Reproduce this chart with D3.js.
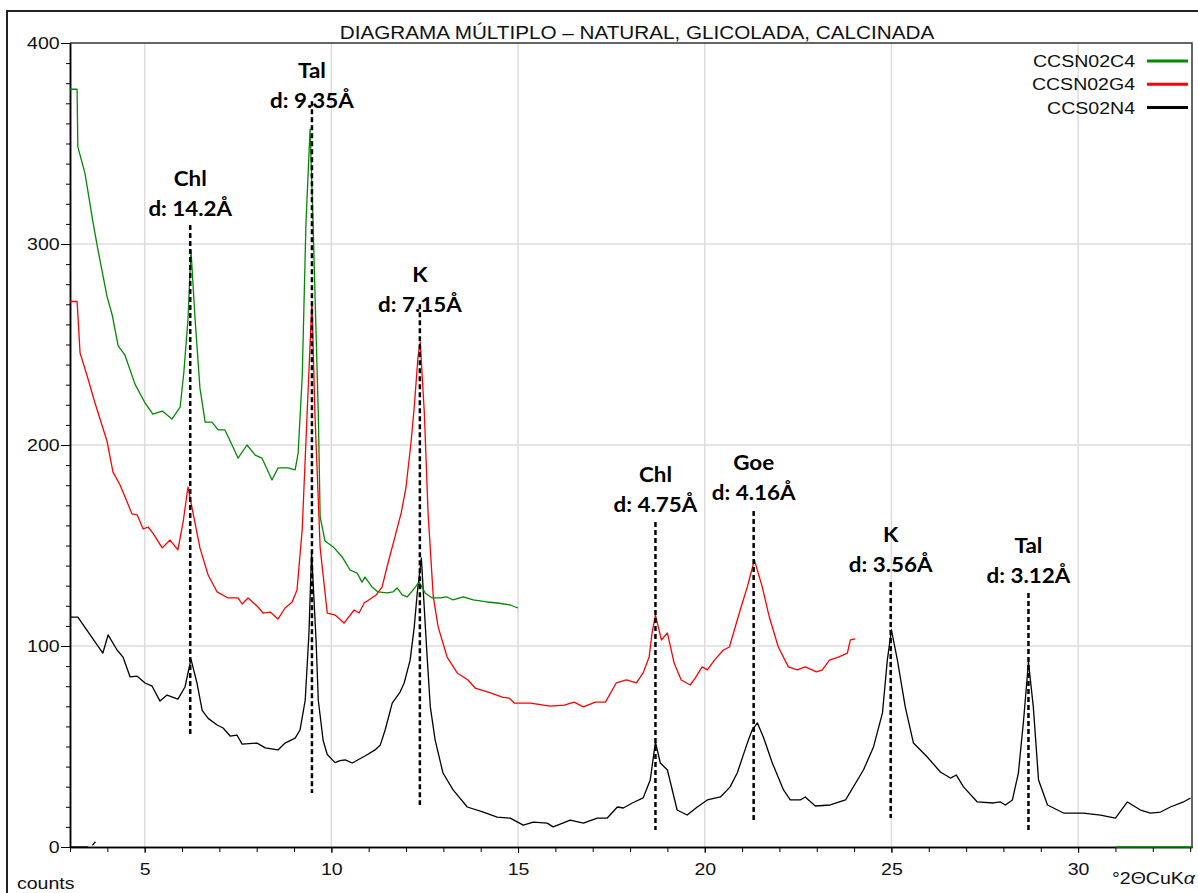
<!DOCTYPE html>
<html>
<head>
<meta charset="utf-8">
<style>
  body { margin: 0; background: #fff; }
  .lbl { font-family: "Liberation Sans", Arial, sans-serif; fill: #111; }
  .anno { font-family: Lato, "Open Sans", sans-serif; font-weight: bold; fill: #000; }
  .grid line { stroke: #dcdcdc; stroke-width: 1.5; }
  .axis path, .axis line { stroke: #000; }
</style>
</head>
<body>
<svg id="chart" width="1198" height="893"></svg>
<script src="https://cdn.jsdelivr.net/npm/d3@7"></script>
<script>
  //************* data (°2θ CuKα, counts) ************
  var natural = [ // CCS02N4
    [3.00,114.4],[3.21,114.4],[3.88,96.5],[4.02,105.5],[4.26,98],[4.42,94.5],[4.61,84.6],[4.80,85],
    [5.01,81.6],[5.20,80],[5.41,72.6],[5.60,75.6],[5.89,73.6],[6.08,79.6],[6.24,93.5],[6.40,81.6],
    [6.54,68],[6.70,64],[6.94,60.7],[7.10,59.2],[7.29,55.2],[7.47,55.7],[7.61,51.2],[8.01,51.7],
    [8.23,49.3],[8.57,48.3],[8.76,51.7],[9.03,54.2],[9.16,58.2],[9.30,73.1],[9.40,106.5],[9.47,146.8],
    [9.59,103],[9.65,73],[9.78,53],[9.89,46],[10.10,42],[10.23,43],[10.37,43.3],[10.56,41.8],
    [10.90,45.3],[11.17,48.3],[11.31,50.7],[11.44,58.2],[11.63,71.6],[11.84,77.1],[11.95,81.6],[12.11,93],
    [12.22,109.5],[12.30,126.4],[12.41,143.8],[12.57,93],[12.65,69.7],[12.78,53.2],[12.99,36.8],[13.26,28.4],
    [13.64,19.9],[14.07,17.4],[14.44,14.9],[14.79,14.4],[15.14,10.9],[15.41,12.4],[15.78,11.9],[15.94,10],
    [16.40,13.4],[16.75,11.9],[17.12,14.4],[17.39,14.4],[17.66,19.9],[17.82,19.4],[18.06,21.9],[18.35,24.4],
    [18.54,33.3],[18.68,52.2],[18.81,41.8],[19.00,38.3],[19.26,18.4],[19.53,15.9],[19.80,19.9],[20.07,23.4],
    [20.42,24.9],[20.68,29.9],[20.87,36.8],[21.14,51.7],[21.27,58.2],[21.41,61.7],[21.57,54.7],[21.81,41.8],
    [22.11,28.4],[22.29,23.4],[22.56,23.4],[22.69,24.9],[22.96,20.4],[23.36,20.9],[23.77,23.4],[23.90,27.4],
    [24.25,38.3],[24.52,49.8],[24.76,66.7],[24.89,93],[25.00,108],[25.16,93],[25.37,69.7],[25.59,51.7],
    [25.96,44.8],[26.31,37.3],[26.58,34.3],[26.74,35.8],[26.93,29.9],[27.30,22.4],[27.73,21.9],[27.92,22.4],
    [28.05,20.9],[28.24,23.4],[28.40,36.8],[28.54,63.2],[28.67,92],[28.80,69.7],[28.94,33.3],[29.18,20.9],
    [29.61,16.9],[30.14,16.9],[30.60,15.9],[31.00,14.4],[31.32,22.4],[31.67,18.4],[31.94,16.9],[32.21,17.4],
    [32.47,19.9],[32.82,22.4],[33.01,24.4]
  ];
  var naturalZero = [[3.00,0],[3.48,0]];
  var naturalStub = [[3.60,0.8],[3.68,2.6]];

  var glicolada = [ // CCSN02G4
    [3.00,271.4],[3.19,271.4],[3.27,245.8],[3.46,234.3],[3.67,220.9],[3.99,202],[4.15,186.6],[4.34,180.1],
    [4.53,171.6],[4.66,165.7],[4.80,165.2],[4.96,158.2],[5.09,159.2],[5.22,156.2],[5.47,148.8],[5.68,152.7],
    [5.89,147.8],[6.03,161.7],[6.16,179.1],[6.30,165.7],[6.48,148.8],[6.70,135.3],[6.94,126.9],[7.23,123.9],
    [7.50,123.9],[7.61,120.9],[7.77,123.9],[8.01,119.9],[8.17,116.4],[8.36,116.9],[8.57,113.4],[8.76,118.9],
    [8.95,121.9],[9.08,127.9],[9.22,158.2],[9.35,215.4],[9.48,271.4],[9.56,215.4],[9.70,148.8],[9.89,116.4],
    [10.10,115.4],[10.34,111.4],[10.61,117.9],[10.74,116.4],[10.88,121.4],[11.20,125.4],[11.36,129.4],[11.49,139.3],
    [11.68,152.7],[11.87,166.2],[12.00,179.1],[12.14,202.5],[12.22,218.9],[12.32,243.8],[12.38,251.2],[12.49,215.9],
    [12.59,166.2],[12.73,124.4],[12.86,109.5],[13.10,94.5],[13.37,86.6],[13.66,83.1],[13.85,79.1],[14.20,77.1],
    [14.58,74.6],[14.76,74.1],[14.90,71.6],[15.33,71.6],[15.86,70.1],[16.24,70.6],[16.50,72.1],[16.75,69.7],
    [17.07,72.1],[17.34,72.1],[17.63,81.6],[17.90,83.1],[18.17,81.6],[18.35,86.6],[18.51,94.5],[18.59,106.5],
    [18.68,115.4],[18.84,103],[19.00,106.5],[19.18,91.5],[19.37,83.1],[19.61,80.6],[19.75,84.1],[19.93,89.6],
    [20.07,88.1],[20.26,93],[20.50,98],[20.66,99.5],[20.95,117.9],[21.14,129.4],[21.33,142.8],[21.54,129.4],
    [21.73,114.4],[21.97,99.5],[22.24,89.6],[22.48,88.1],[22.69,89.6],[22.99,87.1],[23.15,88.1],[23.34,93],
    [23.58,94.5],[23.82,96.5],[23.90,103],[24.03,103.5]
  ];

  var calcinada = [ // CCSN02C4
    [3.00,377],[3.19,377],[3.21,348.3],[3.40,335.3],[3.62,310.4],[3.75,297],[3.99,274.1],[4.13,264.7],
    [4.29,249.3],[4.47,244.8],[4.74,230.3],[5.01,220.9],[5.22,215.4],[5.47,216.9],[5.73,212.9],[5.95,218.9],
    [6.05,236.3],[6.16,262.7],[6.24,297],[6.35,262.7],[6.48,228.4],[6.62,211.4],[6.80,211.4],[6.97,207.5],
    [7.15,207.5],[7.34,200],[7.50,193.5],[7.74,200],[7.96,195],[8.14,193.5],[8.41,182.6],[8.57,188.6],
    [8.84,188.6],[9.03,187.6],[9.11,196],[9.22,234.3],[9.32,310.4],[9.43,357.2],[9.51,310.4],[9.65,215.4],
    [9.70,164.2],[9.83,152.2],[10.05,149.3],[10.29,144.3],[10.50,137.8],[10.69,136.3],[10.82,131.8],[10.90,134.3],
    [11.09,129.4],[11.25,126.9],[11.49,126.4],[11.65,126.9],[11.76,128.9],[11.90,125.4],[12.03,124.4],[12.19,127.9],
    [12.35,131.8],[12.51,126.4],[12.70,123.9],[12.91,123.9],[13.10,124.4],[13.26,122.9],[13.53,124.4],[13.80,122.9],
    [14.17,121.9],[14.44,121.4],[14.79,120.4],[15.00,118.9]
  ];
  var calcinadaZero = [[31.00,0],[33.05,0]];

  var seriesNames = ["CCSN02C4", "CCSN02G4", "CCS02N4"];
  var seriesColors = ["#008a00", "#ff0000", "#000000"];

  // peak annotations
  var peakPos = [6.22, 9.48, 12.37, 18.68, 21.31, 24.98, 28.67];
  var peakMineral = ["Chl", "Tal", "K", "Chl", "Goe", "K", "Tal"];
  var peakD = ["14.2", "9.35", "7.15", "4.75", "4.16", "3.56", "3.12"];
  var peakTop = [309.5, 371, 270, 161.7, 167.2, 131.8, 126.4];
  var peakBottom = [55.7, 26.9, 20.9, 8.5, 13.4, 14.4, 8.5];
  var peakLabel = [313.9, 367.7, 266.2, 166.7, 172.6, 136.8, 131.3];

  var xMajor = [5, 10, 15, 20, 25, 30];
  var yMajor = [0, 100, 200, 300, 400];

  //************* layout ************
  var plotLeft = 70, plotRight = 1192, plotTop = 43, plotBottom = 847;
  var stretch = 1.15; // text in the picture is slightly widened

  var x = d3.scaleLinear().domain([3, 33.05]).range([plotLeft, plotRight]);
  var y = d3.scaleLinear().domain([0, 400]).range([plotBottom, plotTop]);

  var svg = d3.select("#chart");

  // outer frame
  svg.append("rect")
    .attr("x", 7).attr("y", 11)
    .attr("width", 1200).attr("height", 900)
    .attr("fill", "none")
    .attr("stroke", "#222")
    .attr("stroke-width", 2);

  svg.append("defs").append("clipPath")
    .attr("id", "clip")
    .append("rect")
    .attr("x", plotLeft).attr("y", plotTop - 2)
    .attr("width", plotRight - plotLeft).attr("height", plotBottom - plotTop + 3);

  // grid
  var grid = svg.append("g").attr("class", "grid");
  grid.selectAll(".vx").data(xMajor).enter().append("line")
    .attr("x1", function(d) { return x(d); })
    .attr("x2", function(d) { return x(d); })
    .attr("y1", plotTop).attr("y2", plotBottom);
  grid.selectAll(".hy").data([100, 200, 300]).enter().append("line")
    .attr("x1", plotLeft).attr("x2", plotRight)
    .attr("y1", function(d) { return y(d); })
    .attr("y2", function(d) { return y(d); });

  // plot frame (top, right)
  svg.append("path")
    .attr("d", "M" + plotLeft + "," + plotTop + "H" + plotRight + "V" + plotBottom)
    .attr("fill", "none")
    .attr("stroke", "#333")
    .attr("stroke-width", 1.5);

  // axes
  svg.append("g")
    .attr("class", "axis")
    .attr("transform", "translate(" + plotLeft + ",0)")
    .call(d3.axisLeft(y).tickValues(d3.range(0, 401, 10)).tickSize(4).tickSizeOuter(0).tickFormat(""));
  var yAx = svg.append("g")
    .attr("class", "axis")
    .attr("transform", "translate(" + plotLeft + ",0)")
    .call(d3.axisLeft(y).tickValues(yMajor).tickSize(9).tickSizeOuter(0));

  svg.append("g")
    .attr("class", "axis")
    .attr("transform", "translate(0," + plotBottom + ")")
    .call(d3.axisBottom(x).tickValues(d3.range(3, 34, 1)).tickSize(5).tickSizeOuter(0).tickFormat(""));
  var xAx = svg.append("g")
    .attr("class", "axis")
    .attr("transform", "translate(0," + plotBottom + ")")
    .call(d3.axisBottom(x).tickValues(xMajor).tickSize(6).tickSizeOuter(0));

  svg.selectAll(".axis path.domain").attr("stroke-width", 1.5);
  yAx.selectAll("text")
    .attr("class", "lbl")
    .attr("x", -9)
    .attr("transform", "scale(" + stretch + ",1)")
    .style("font-size", "17px");
  xAx.selectAll("text")
    .attr("class", "lbl")
    .attr("y", 16)
    .attr("transform", "scale(" + stretch + ",1)")
    .style("font-size", "17px");
  svg.selectAll(".axis text").attr("fill", "#111");

  function stretchedText(str, px, py, size, anchor) {
    return svg.append("text")
      .attr("class", "lbl")
      .attr("transform", "translate(" + px + "," + py + ") scale(" + stretch + ",1)")
      .attr("text-anchor", anchor)
      .style("font-size", size + "px")
      .text(str);
  }

  stretchedText("DIAGRAMA MÚLTIPLO – NATURAL, GLICOLADA, CALCINADA", 637, 39, 18, "middle");
  stretchedText("counts", 17, 889, 17, "start");
  var unit = stretchedText("°2ΘCuK", 1112, 884, 17, "start");
  unit.append("tspan").style("font-style", "italic").text("α");

  //************* traces ************
  var line = d3.line()
    .x(function(d) { return x(d[0]); })
    .y(function(d) { return y(d[1]); });

  var traces = svg.append("g").attr("clip-path", "url(#clip)");
  var drawList = [
    [natural, 2], [naturalZero, 2], [naturalStub, 2],
    [glicolada, 1],
    [calcinada, 0], [calcinadaZero, 0]
  ];
  drawList.forEach(function(item) {
    traces.append("path")
      .datum(item[0])
      .attr("fill", "none")
      .attr("stroke", seriesColors[item[1]])
      .attr("stroke-width", 1.3)
      .attr("stroke-linejoin", "round")
      .attr("d", line);
  });

  //************* peak markers ************
  var peaks = svg.append("g");
  peakPos.forEach(function(p, i) {
    peaks.append("line")
      .attr("x1", x(p)).attr("x2", x(p))
      .attr("y1", y(peakTop[i])).attr("y2", y(peakBottom[i]))
      .attr("stroke", "#000")
      .attr("stroke-width", 2.5)
      .attr("stroke-dasharray", "5,3");
    var ly = y(peakLabel[i]);
    peaks.append("text")
      .attr("class", "anno")
      .attr("text-anchor", "middle")
      .attr("transform", "translate(" + x(p) + "," + (ly - 30) + ") scale(1.12,1)")
      .style("font-size", "20px")
      .text(peakMineral[i]);
    peaks.append("text")
      .attr("class", "anno")
      .attr("text-anchor", "middle")
      .attr("transform", "translate(" + x(p) + "," + ly + ") scale(1.12,1)")
      .style("font-size", "20px")
      .text("d: " + peakD[i] + "Å");
  });

  //************* legend ************
  var legend = svg.append("g");
  seriesNames.forEach(function(name, i) {
    var ly = 61 + i * 23.3;
    legend.append("line")
      .attr("x1", 1147).attr("x2", 1188)
      .attr("y1", ly).attr("y2", ly)
      .attr("stroke", seriesColors[i])
      .attr("stroke-width", 3);
    legend.append("text")
      .attr("class", "lbl")
      .attr("text-anchor", "end")
      .attr("transform", "translate(1135," + (ly + 6) + ") scale(" + stretch + ",1)")
      .style("font-size", "17px")
      .text(name);
  });
</script>
</body>
</html>
